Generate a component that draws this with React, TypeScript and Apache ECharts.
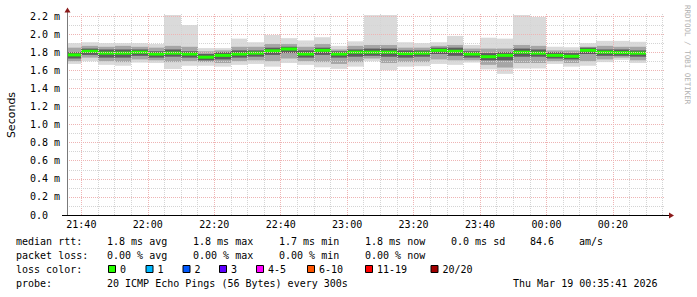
import { useEffect, useRef } from 'react';
import * as echarts from 'echarts';

// window: 21:35:41 -> 00:35:41
const windowStart = '21:35:41';
const windowEnd = '00:35:41';

// end time of every 5-minute step
const stepEnds = [
  '21:40', '21:45', '21:50', '21:55', '22:00', '22:05', '22:10', '22:15', '22:20',
  '22:25', '22:30', '22:35', '22:40', '22:45', '22:50', '22:55', '23:00', '23:05',
  '23:10', '23:15', '23:20', '23:25', '23:30', '23:35', '23:40', '23:45', '23:50',
  '23:55', '00:00', '00:05', '00:10', '00:15', '00:20', '00:25', '00:30',
];

// round-trip times in ms
const rttMin = [1.67, 1.70, 1.66, 1.65, 1.685, 1.68, 1.615, 1.65, 1.65, 1.64, 1.66, 1.67, 1.64, 1.68, 1.66, 1.633, 1.615, 1.64, 1.70, 1.60, 1.64, 1.645, 1.67, 1.66, 1.685, 1.61, 1.56, 1.62, 1.62, 1.67, 1.64, 1.65, 1.69, 1.715, 1.68];
const rttP10 = [1.70, 1.74, 1.70, 1.69, 1.72, 1.71, 1.69, 1.70, 1.69, 1.68, 1.70, 1.71, 1.70, 1.73, 1.70, 1.69, 1.67, 1.69, 1.73, 1.68, 1.69, 1.69, 1.72, 1.71, 1.71, 1.66, 1.63, 1.68, 1.68, 1.70, 1.68, 1.70, 1.72, 1.74, 1.71];
const rttP25 = [1.73, 1.77, 1.74, 1.74, 1.76, 1.74, 1.75, 1.74, 1.71, 1.72, 1.74, 1.75, 1.77, 1.79, 1.74, 1.77, 1.74, 1.75, 1.76, 1.75, 1.74, 1.75, 1.78, 1.76, 1.74, 1.71, 1.71, 1.75, 1.75, 1.73, 1.72, 1.78, 1.76, 1.76, 1.75];
const rttMedian = [1.77, 1.81, 1.79, 1.79, 1.80, 1.78, 1.79, 1.78, 1.745, 1.765, 1.78, 1.79, 1.815, 1.835, 1.78, 1.82, 1.78, 1.80, 1.80, 1.80, 1.785, 1.79, 1.82, 1.81, 1.78, 1.75, 1.765, 1.80, 1.79, 1.765, 1.755, 1.82, 1.80, 1.795, 1.79];
const rttP75 = [1.80, 1.84, 1.83, 1.83, 1.83, 1.81, 1.83, 1.81, 1.78, 1.80, 1.82, 1.82, 1.85, 1.86, 1.82, 1.85, 1.81, 1.83, 1.84, 1.84, 1.82, 1.82, 1.85, 1.85, 1.81, 1.79, 1.80, 1.84, 1.83, 1.80, 1.79, 1.85, 1.83, 1.83, 1.82];
const rttP90 = [1.85, 1.87, 1.86, 1.87, 1.86, 1.85, 1.87, 1.86, 1.81, 1.82, 1.86, 1.86, 1.89, 1.89, 1.86, 1.89, 1.83, 1.87, 1.88, 1.88, 1.85, 1.85, 1.87, 1.88, 1.84, 1.84, 1.84, 1.88, 1.87, 1.82, 1.82, 1.86, 1.87, 1.86, 1.86];
const rttMax = [1.90, 1.91, 1.90, 1.90, 1.90, 1.89, 2.21, 2.10, 1.845, 1.845, 1.95, 1.91, 1.99, 1.955, 1.93, 1.965, 1.87, 1.92, 2.21, 2.21, 1.91, 1.90, 1.91, 1.98, 1.88, 1.96, 1.95, 2.21, 2.19, 1.86, 1.855, 1.90, 1.925, 1.925, 1.915];

const xMajorTicks = ['21:40', '22:00', '22:20', '22:40', '23:00', '23:20', '23:40', '00:00', '00:20'];
const yTicks = [0, 0.2, 0.4, 0.6, 0.8, 1.0, 1.2, 1.4, 1.6, 1.8, 2.0, 2.2];

const lossColors = [
  { label: '0', color: '#26ff00' },
  { label: '1', color: '#00b8ff' },
  { label: '2', color: '#0059ff' },
  { label: '3', color: '#5e00ff' },
  { label: '4-5', color: '#ff00ff' },
  { label: '6-10', color: '#ff5500' },
  { label: '11-19', color: '#ff0000' },
  { label: '20/20', color: '#a10000' },
];

const legendRtt = ['1.8 ms avg', '1.8 ms max', '1.7 ms min', '1.8 ms now', '0.0 ms sd', '84.6', 'am/s'];
const legendLoss = ['0.00 % avg', '0.00 % max', '0.00 % min', '0.00 % now'];
const probeText = '20 ICMP Echo Pings (56 Bytes) every 300s';
const dateText = 'Thu Mar 19 00:35:41 2026';

function toMin(t: string): number {
  const p = t.split(':').map(Number);
  let h = p[0];
  if (h < 12) h += 24;
  return (h - 21) * 60 + p[1] + (p[2] || 0) / 60;
}
function fmt(m: number): string {
  let h = Math.floor(m / 60) + 21;
  const mm = Math.round(m - (h - 21) * 60);
  h = h % 24;
  return String(h).padStart(2, '0') + ':' + String(mm).padStart(2, '0');
}

const MONO = '"DejaVu Sans Mono", monospace';

export default function App() {
  const ref = useRef<HTMLDivElement>(null);
  useEffect(() => {
    if (!ref.current) return;
    const chart = echarts.init(ref.current, null, { renderer: 'svg' });
    const xMin = toMin(windowStart);
    const xMax = toMin(windowEnd);
    const yMax = 2.2332;

    const data = stepEnds.map((e, i) => {
      const end = toMin(e);
      const start = Math.max(end - 5, xMin);
      return [start, end, rttMin[i], rttP10[i], rttP25[i], rttMedian[i], rttP75[i], rttP90[i], rttMax[i]];
    });

    const majors = xMajorTicks.map(toMin);
    const MAJOR = '#eeb4b4';
    const MINOR = '#d4d4d4';
    const xGrid: any[] = [];
    for (let v = majors[0]; v < xMax; v += 5) {
      const isMajor = majors.some((m) => Math.abs(m - v) < 1e-6);
      xGrid.push({ xAxis: v, lineStyle: { color: isMajor ? MAJOR : MINOR, type: [1, 1], width: 1 } });
    }
    const yGrid: any[] = [];
    yTicks.forEach((v) => {
      if (v > 0) yGrid.push({ yAxis: v, lineStyle: { color: MAJOR, type: [1, 1], width: 1 } });
      if (v + 0.1 < yMax) yGrid.push({ yAxis: v + 0.1, lineStyle: { color: MINOR, type: [1, 1], width: 1 } });
    });

    const graphics: any[] = [];
    // axes
    graphics.push({ type: 'line', shape: { x1: 67.5, y1: 215, x2: 67.5, y2: 10 }, style: { stroke: '#7a7a7a', lineWidth: 1 }, z: 20 });
    graphics.push({ type: 'polygon', shape: { points: [[64.5, 12.5], [70.5, 12.5], [67.5, 7.5]] }, style: { fill: '#8b1a1a' }, z: 21 });
    graphics.push({ type: 'line', shape: { x1: 62, y1: 215.5, x2: 670, y2: 215.5 }, style: { stroke: '#000', lineWidth: 1 }, z: 20 });
    graphics.push({ type: 'polygon', shape: { points: [[669, 212.5], [669, 218.5], [674, 215.5]] }, style: { fill: '#8b1a1a' }, z: 21 });
    // titles
    graphics.push({ type: 'text', x: 11, y: 115, rotation: Math.PI / 2, style: { text: 'Seconds', font: '11px "DejaVu Sans", sans-serif', fill: '#000', textAlign: 'center', textVerticalAlign: 'middle' } });
    graphics.push({ type: 'text', x: 687, y: 5, rotation: -Math.PI / 2, style: { text: 'RRDTOOL / TOBI OETIKER', font: '7.5px ' + MONO, fill: '#b0b0b0', textAlign: 'left', textVerticalAlign: 'middle' } });

    const cols = [107, 193, 279, 365, 451, 530, 579];
    const rows = [241, 255, 269, 283];
    const txt = (s: string, x: number, y: number) => ({ type: 'text', x, y, style: { text: s, font: '10px ' + MONO, fill: '#000', textAlign: 'left', textVerticalAlign: 'middle' } });
    graphics.push(txt('median rtt:', 16, rows[0]));
    legendRtt.forEach((s, i) => graphics.push(txt(s, cols[i], rows[0])));
    graphics.push(txt('packet loss:', 16, rows[1]));
    legendLoss.forEach((s, i) => graphics.push(txt(s, cols[i], rows[1])));
    graphics.push(txt('loss color:', 16, rows[2]));
    const boxX = [108, 145.5, 182.5, 219, 256, 307, 365, 430.5];
    lossColors.forEach((lc, i) => {
      graphics.push({ type: 'rect', shape: { x: boxX[i] + 0.5, y: 265.5, width: 7, height: 7 }, style: { fill: lc.color, stroke: '#000', lineWidth: 1 } });
      graphics.push(txt(lc.label, boxX[i] + 12, rows[2]));
    });
    graphics.push(txt('probe:', 16, rows[3]));
    graphics.push(txt(probeText, 107, rows[3]));
    graphics.push(txt(dateText, 513, rows[3]));

    chart.setOption({
      animation: false,
      backgroundColor: '#ffffff',
      grid: { left: 67, right: 32, top: 13, bottom: 82, containLabel: false },
      xAxis: {
        type: 'value',
        min: xMin,
        max: xMax,
        axisLine: { show: false },
        axisTick: { show: false },
        splitLine: { show: false },
        axisLabel: {
          customValues: majors,
          formatter: (v: number) => fmt(v),
          fontFamily: MONO,
          fontSize: 10,
          color: '#000',
          margin: 4,
        },
      },
      yAxis: {
        type: 'value',
        min: 0,
        max: yMax,
        interval: 0.2,
        axisLine: { show: false },
        axisTick: { show: false },
        splitLine: { show: false },
        axisLabel: {
          formatter: (v: number) => {
            const k = Math.round(v / 0.2);
            if (Math.abs(v - k * 0.2) > 1e-6) return '';
            return v === 0 ? '0.0' : v.toFixed(1) + ' m';
          },
          fontFamily: MONO,
          fontSize: 10,
          color: '#000',
          align: 'left',
          margin: 37,
        },
      },
      graphic: graphics,
      series: [
        {
          type: 'custom',
          z: 2,
          clip: true,
          encode: { x: [0, 1], y: [2, 8] },
          data,
          renderItem: (params: any, api: any) => {
            const x0 = api.value(0);
            const x1 = api.value(1);
            const bands: [number, number, string][] = [
              [2, 8, '#dadada'],
              [3, 7, '#a6a6a6'],
              [4, 6, '#5c5c5c'],
            ];
            const children: any[] = bands.map(([lo, hi, c]) => {
              const a = api.coord([x0, api.value(hi)]);
              const b = api.coord([x1, api.value(lo)]);
              const xa = Math.round(a[0]);
              const xb = Math.round(b[0]);
              return { type: 'rect', shape: { x: xa, y: a[1], width: xb - xa, height: b[1] - a[1] }, style: { fill: c } };
            });
            const m1 = api.coord([x0, api.value(5)]);
            const m2 = api.coord([x1, api.value(5)]);
            const xa = Math.round(m1[0]);
            const xb = Math.round(m2[0]);
            children.push({ type: 'rect', shape: { x: xa, y: m1[1] - 1.5, width: xb - xa, height: 3 }, style: { fill: '#22ff00' } });
            return { type: 'group', children };
          },
        },
        {
          type: 'line',
          z: 5,
          data: [],
          silent: true,
          markLine: {
            silent: true,
            symbol: ['none', 'none'],
            label: { show: false },
            emphasis: { disabled: true },
            data: [...xGrid, ...yGrid],
          },
        },
      ],
    });
    return () => chart.dispose();
  }, []);
  return <div ref={ref} style={{ position: 'fixed', left: 0, top: 0, width: 697, height: 297 }} />;
}
